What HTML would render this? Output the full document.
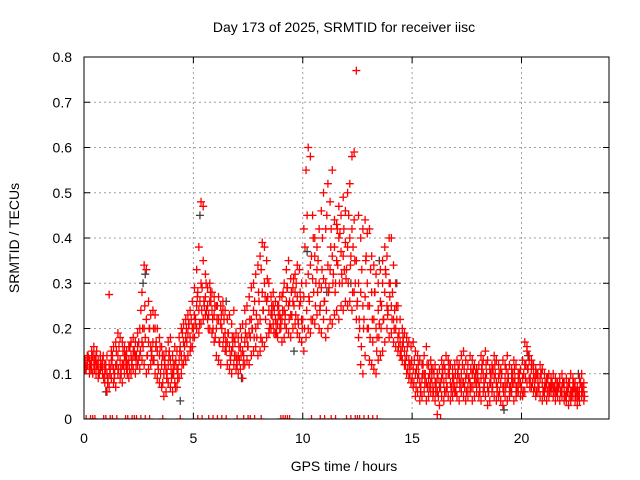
<!DOCTYPE html>
<html><head><meta charset="utf-8"><style>
body{margin:0;background:#fff}
svg{display:block;font-family:"Liberation Sans",sans-serif}
</style></head><body>
<svg id="chart" width="640" height="480" viewBox="0 0 640 480">
<rect width="640" height="480" fill="#fff"/>
<text x="344" y="32" font-size="14" text-anchor="middle">Day 173 of 2025, SRMTID for receiver iisc</text>
<text transform="translate(19,238) rotate(-90)" font-size="14" text-anchor="middle">SRMTID / TECUs</text>
<text x="344" y="471" font-size="14" text-anchor="middle">GPS time / hours</text>
<g id="grid"></g><g id="axes"></g>
<defs><clipPath id="pc"><rect x="84" y="57" width="525" height="362"/></clipPath></defs>
<g id="marks" clip-path="url(#pc)"></g>
<rect x="84" y="57" width="525" height="362" fill="none" stroke="#000" stroke-width="1"/>
</svg>
<script>
const xTicks=[0,5,10,15,20];
const yTicks=[0,0.1,0.2,0.3,0.4,0.5,0.6,0.7,0.8];
const yTickLabels=["0","0.1","0.2","0.3","0.4","0.5","0.6","0.7","0.8"];
const redLo=[.11,.12,.10,.11,.12,.10,.09,.11,.10,.08, .06,.07,.09,.08,.07,.10,.09,.08,.10,.11, .09,.10,.11,.10,.12,.11,.13,.12,.10,.11, .12,.13,.10,.09,.08,.07,.05,.06,.08,.07, .06,.08,.07,.09,.10,.12,.13,.14,.15,.16, .18,.20,.19,.21,.22,.23,.22,.20,.19,.17, .14,.13,.12,.16,.15,.12,.11,.10,.12,.11, .10,.11,.09,.12,.13,.12,.14,.15,.16,.14, .15,.17,.16,.18,.19,.20,.21,.19,.18,.20, .17,.18,.20,.19,.18,.20,.21,.19,.18,.17, .15,.18,.20,.19,.22,.21,.23,.20,.19,.22, .18,.20,.22,.21,.23,.24,.22,.25,.24,.26, .25,.26,.24,.28,.22,.18,.12,.10,.14,.20, .13,.12,.11,.10,.13,.14,.15,.17,.20,.18, .19,.17,.16,.15,.14,.13,.12,.10,.09,.08, .07,.05,.06,.04,.05,.06,.04,.05,.06,.05, .04,.01,.03,.05,.04,.06,.05,.04,.05,.06, .05,.04,.06,.05,.04,.05,.06,.04,.05,.06, .05,.04,.06,.05,.03,.04,.06,.05,.04,.05, .04,.03,.05,.04,.05,.06,.04,.05,.06,.05, .05,.06,.08,.09,.07,.06,.05,.06,.05,.04, .05,.04,.05,.06,.05,.04,.05,.04,.05,.04, .04,.03,.04,.05,.04,.03,.04,.05,.04];
const redMid=[.12,.13,.12,.13,.14,.12,.11,.13,.12,.10, .10,.12,.13,.11,.12,.14,.13,.12,.14,.13, .13,.14,.15,.14,.16,.14,.17,.20,.22,.17, .16,.17,.20,.15,.14,.12,.10,.11,.12,.13, .10,.12,.11,.13,.14,.17,.18,.19,.18,.20, .23,.25,.24,.30,.35,.27,.25,.26,.24,.23, .20,.22,.21,.24,.19,.17,.16,.15,.18,.14, .14,.16,.15,.17,.18,.19,.22,.24,.20,.21, .22,.28,.30,.26,.24,.23,.25,.22,.21,.23, .22,.24,.26,.25,.23,.26,.28,.27,.25,.22, .27,.30,.32,.34,.31,.36,.33,.30,.29,.31, .30,.34,.33,.36,.38,.35,.40,.37,.36,.39, .38,.40,.42,.44,.35,.30,.28,.25,.27,.30, .25,.28,.22,.20,.24,.26,.30,.28,.25,.30, .25,.22,.20,.18,.17,.16,.15,.14,.13,.12, .11,.10,.09,.08,.09,.10,.08,.09,.08,.07, .08,.06,.07,.09,.08,.09,.10,.08,.09,.07, .08,.09,.10,.08,.09,.07,.08,.10,.09,.08, .08,.09,.10,.09,.07,.08,.10,.09,.08,.09, .08,.07,.09,.08,.07,.09,.08,.07,.09,.08, .09,.12,.15,.13,.11,.10,.09,.08,.09,.08, .07,.08,.07,.08,.07,.06,.07,.08,.07,.06, .06,.07,.06,.07,.06,.05,.06,.07,.06];
const redHi=[.13,.14,.13,.15,.16,.14,.13,.14,.13,.12, .14,.275,.15,.16,.17,.19,.18,.17,.16,.15, .16,.17,.18,.17,.19,.20,.28,.34,.33,.26, .23,.24,.23,.20,.18,.16,.14,.15,.17,.18, .14,.16,.15,.18,.20,.21,.22,.23,.24,.26, .29,.33,.38,.48,.47,.32,.29,.30,.28,.27, .25,.27,.25,.26,.24,.22,.23,.21,.24,.19, .18,.20,.21,.24,.25,.27,.29,.30,.32,.34, .36,.39,.38,.35,.30,.27,.28,.26,.25,.27, .27,.30,.33,.35,.31,.29,.32,.34,.33,.30, .42,.55,.60,.58,.45,.40,.38,.42,.46,.50, .42,.52,.48,.55,.44,.43,.47,.45,.49,.46, .50,.52,.58,.59,.77,.45,.40,.42,.44,.41, .42,.36,.34,.32,.30,.33,.35,.38,.36,.40, .40,.34,.30,.25,.22,.20,.19,.18,.17,.16, .17,.15,.14,.13,.12,.14,.16,.12,.13,.11, .12,.10,.11,.13,.12,.14,.13,.12,.11,.12, .13,.12,.14,.15,.13,.12,.14,.13,.12,.11, .12,.14,.13,.15,.13,.11,.12,.14,.13,.12, .11,.13,.12,.14,.12,.11,.13,.12,.10,.11, .13,.17,.16,.14,.13,.12,.11,.10,.12,.11, .10,.09,.10,.09,.10,.09,.08,.09,.10,.08, .09,.08,.10,.09,.08,.07,.09,.10,.08];
const redExtraA=[.125,.11,.135,.12,.10,.13,.12,.10,.115,.09, .12,.09,.11,.14,.10,.12,.16,.10,.12,.14, .12,.16,.13,.15,.14,.17,.24,.16,.18,.14, .20,.15,.13,.17,.11,.10,.08,.13,.10,.15, .09,.10,.13,.11,.16,.19,.16,.17,.21,.22, .20,.22,.28,.26,.29,.25,.24,.23,.26,.20, .18,.25,.17,.20,.22,.15,.19,.13,.16,.17, .12,.13,.18,.14,.21,.16,.18,.20,.26,.18, .26,.33,.24,.22,.27,.21,.23,.24,.19,.25, .20,.28,.23,.29,.26,.23,.25,.30,.21,.26, .22,.38,.45,.26,.36,.28,.30,.35,.25,.40, .26,.45,.29,.42,.32,.30,.34,.41,.30,.33, .33,.45,.36,.38,.30,.26,.20,.33,.22,.36, .20,.33,.17,.28,.18,.21,.25,.22,.32,.24, .30,.28,.24,.22,.19,.14,.17,.12,.11,.10, .09,.13,.11,.10,.07,.12,.10,.07,.10,.09, .10,.08,.05,.07,.10,.11,.07,.10,.07,.09, .06,.11,.08,.12,.07,.10,.09,.07,.11,.10, .10,.06,.12,.07,.10,.06,.08,.11,.10,.07, .06,.10,.07,.11,.09,.07,.10,.09,.07,.10, .07,.10,.12,.11,.09,.08,.07,.10,.07,.10, .06,.07,.09,.07,.08,.07,.06,.07,.06,.08, .05,.06,.08,.06,.07,.06,.05,.08,.07];
const redExtraB=[.115,.14,.11,.14,.11,.15,.10,.12,.14,.11, .08,.10,.12,.09,.15,.11,.11,.15,.12,.10, .11,.12,.14,.12,.13,.15,.20,.25,.14,.20, .14,.20,.16,.12,.16,.14,.12,.09,.14,.11, .12,.07,.09,.15,.12,.14,.20,.21,.16,.18, .21,.27,.21,.24,.26,.30,.20,.28,.22,.25, .22,.17,.23,.18,.17,.19,.14,.18,.14,.13, .16,.14,.12,.19,.16,.22,.20,.18,.23,.28, .18,.24,.27,.31,.20,.25,.19,.21,.23,.22, .24,.21,.29,.22,.28,.31,.23,.22,.28,.20, .20,.24,.27,.22,.40,.25,.28,.24,.33,.26, .24,.28,.38,.30,.28,.42,.30,.32,.42,.31, .30,.34,.28,.35,.25,.22,.16,.20,.35,.25, .18,.22,.28,.15,.18,.20,.22,.33,.23,.27, .22,.20,.25,.16,.15,.18,.13,.16,.12,.13, .08,.07,.12,.06,.10,.08,.12,.07,.11,.06, .06,.09,.08,.11,.06,.07,.12,.06,.07,.10, .10,.07,.08,.11,.06,.09,.11,.07,.08,.09, .07,.11,.08,.12,.06,.10,.07,.12,.06,.10, .10,.06,.07,.10,.06,.08,.11,.06,.08,.07, .06,.09,.11,.07,.12,.09,.06,.07,.10,.06, .08,.06,.06,.07,.06,.08,.07,.06,.08,.05, .07,.05,.05,.08,.05,.06,.08,.06,.05];
const zeroTimes=[0.1,0.3,0.4,0.5,0.9,1.0,1.2,1.3,1.5,1.9,2.0,2.2,2.3,2.4,2.6,2.8,3.0,3.6,4.4,5.2,5.4,5.7,5.9,6.1,6.3,6.5,7.0,7.3,7.5,7.6,7.8,8.1,9.0,9.1,9.2,9.3,9.4,10.4,10.8,11.0,11.3,11.5,12.0,12.2,12.4,12.5,12.6,12.8,13.0,13.2,13.4,16.3];
const grayT=[1.0,2.7,2.8,4.4,5.3,6.5,7.2,9.6,10.2,11.1,12.2,13.5,14.3,19.2,20.3,22.6];
const grayV=[0.06,0.30,0.32,0.04,0.45,0.26,0.09,0.15,0.37,0.28,0.30,0.35,0.30,0.02,0.14,0.10];

const NS="http://www.w3.org/2000/svg";
const X=t=>84+t*(525/24);
const Y=v=>419-v*(362/0.8);
const grid=document.getElementById('grid'),axes=document.getElementById('axes'),marks=document.getElementById('marks');
function mk(tag,attrs,parent){const e=document.createElementNS(NS,tag);for(const k in attrs)e.setAttribute(k,attrs[k]);parent.appendChild(e);return e;}
yTicks.forEach((v,i)=>{
  if(i>0&&i<yTicks.length-1){const g=mk('line',{x1:84,x2:609,y1:Y(v),y2:Y(v),stroke:'#a0a0a0','stroke-dasharray':'2,3'},grid);
  
  }
  const tl=mk('path',{d:`M84 ${Y(v)}h6M609 ${Y(v)}h-6`,stroke:'#000'},axes);
  
  
  const t=mk('text',{x:72,y:Y(v)+5,'font-size':14,'text-anchor':'end'},axes);t.textContent=yTickLabels[i];
  
  
});
xTicks.forEach(v=>{
  if(v>0){const g=mk('line',{x1:X(v),x2:X(v),y1:57,y2:419,stroke:'#a0a0a0','stroke-dasharray':'2,3'},grid);
  
  }
  const tl=mk('path',{d:`M${X(v)} 419v-6M${X(v)} 57v6`,stroke:'#000'},axes);
  
  
  const t=mk('text',{x:X(v),y:443,'font-size':14,'text-anchor':'middle'},axes);t.textContent=String(v);
  
  
});
function plus(t,v,color,name){
  const x=X(t),y=Y(v);
  const p=mk('path',{d:`M${x-4} ${y}h8M${x} ${y-4}v8`,stroke:color,'stroke-width':1.3,fill:'none'},marks);
  
  
}
grayT.forEach((t,i)=>plus(t,grayV[i],'#404040','gray-point'));
[[redLo,0.05],[redMid,0.05],[redHi,0.05],[redExtraA,0.0],[redExtraB,0.08]].forEach(([arr,off])=>arr.forEach((v,i)=>plus(i*0.1+off,v,'#ff0000','red-point')));
zeroTimes.forEach(t=>plus(t,0,'#ff0000','zero-point'));
</script>
</body></html>
